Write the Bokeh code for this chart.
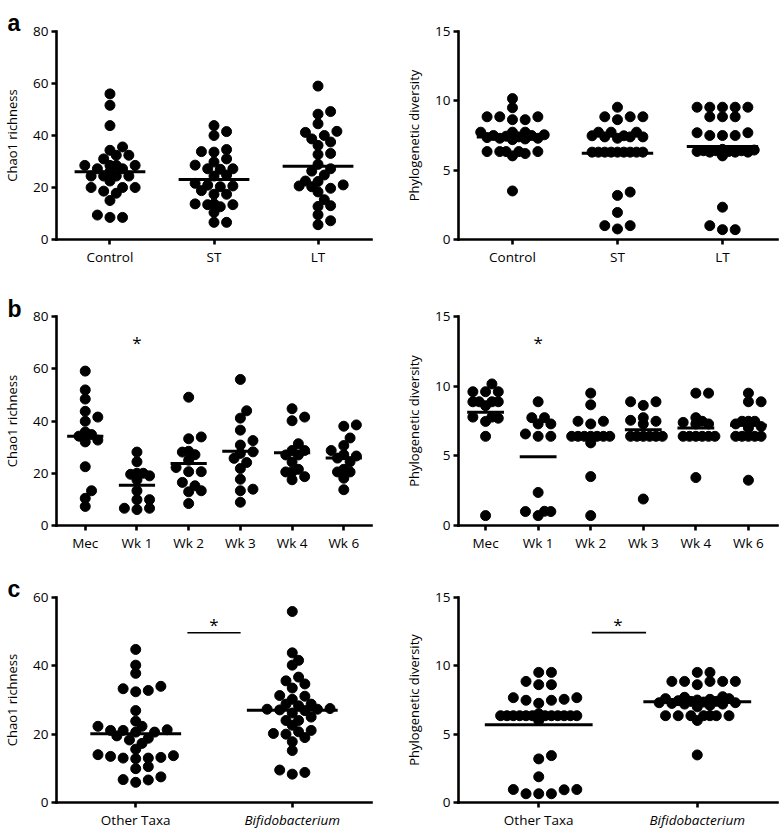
from bokeh.plotting import figure
from bokeh.layouts import column, row
from bokeh.models import Range1d, FixedTicker
from bokeh.core.properties import value
from bokeh.embed import file_html
from bokeh.resources import INLINE

FONT = "Open Sans"

# ---------------- data ----------------
cats_a = ["Control", "ST", "LT"]
cats_b = ["Mec", "Wk 1", "Wk 2", "Wk 3", "Wk 4", "Wk 6"]
cats_c = ["Other Taxa", "Bifidobacterium"]

a_chao_control = [56.0, 51.6, 43.8, 35.6, 34.3, 32.4, 32.4, 31.0, 28.5, 28.5, 28.5, 28.5, 27.2, 27.2, 26.0,
                  24.4, 24.4, 24.4, 24.4, 22.5, 20.0, 20.0, 20.0, 18.6, 17.8, 15.0, 9.4, 8.5, 8.5]
a_chao_st = [43.8, 41.5, 40.0, 34.6, 33.8, 33.6, 31.0, 29.8, 28.6, 27.2, 27.2, 27.0, 24.8, 24.4, 21.6,
             20.9, 20.6, 20.3, 18.8, 17.4, 17.4, 13.7, 13.7, 13.4, 13.4, 12.6, 10.4, 6.6, 6.6]
a_chao_lt = [59.0, 49.2, 48.2, 44.5, 41.6, 41.2, 40.0, 38.7, 37.5, 36.2, 33.1, 32.7, 28.9, 27.2, 26.3,
             24.8, 22.5, 22.3, 21.0, 20.6, 20.3, 19.7, 18.3, 15.3, 13.0, 12.7, 9.5, 7.2, 5.7]
a_chao_lines = [26.1, 23.1, 28.2]

a_pd_control = [10.16, 9.5, 8.85, 8.85, 8.85, 8.64, 8.64, 7.74, 7.74, 7.74, 7.55, 7.5, 7.5, 7.45, 7.4,
                7.35, 7.3, 7.3, 7.25, 7.2, 6.34, 6.34, 6.34, 6.34, 6.34, 6.2, 6.03, 3.5]
a_pd_st = [9.54, 8.85, 8.85, 8.85, 8.64, 7.74, 7.74, 7.74, 7.48, 7.48, 7.4, 7.4, 7.4, 7.3,
           6.3, 6.3, 6.3, 6.3, 6.3, 6.3, 6.3, 6.3, 6.3, 3.42, 3.18, 1.95, 1.0, 1.0, 0.76]
a_pd_lt = [9.54, 9.54, 9.54, 9.54, 9.54, 8.85, 8.85, 8.85, 7.7, 7.7, 7.5, 7.5, 7.5,
           6.5, 6.45, 6.4, 6.4, 6.4, 6.35, 6.35, 6.3, 6.3, 6.3, 6.03, 2.33, 1.0, 0.71, 0.71]
a_pd_lines = [7.4, 6.22, 6.7]

b_chao_mec = [59.1, 51.9, 48.4, 43.7, 41.5, 39.9, 35.8, 34.8, 34.2, 32.7, 32.0, 22.5, 13.3, 10.4, 7.3]
b_chao_wk1 = [28.1, 24.4, 20.0, 20.0, 19.6, 19.0, 17.5, 13.3, 9.9, 9.9, 6.6, 6.6, 6.1]
b_chao_wk2 = [49.1, 33.9, 33.2, 28.4, 28.1, 27.1, 25.0, 22.2, 20.6, 20.6, 16.5, 15.2, 13.3, 12.9, 8.4]
b_chao_wk3 = [55.9, 43.9, 41.1, 36.5, 32.5, 30.8, 28.2, 27.6, 25.7, 24.1, 21.8, 17.7, 13.9, 13.3, 8.9]
b_chao_wk4 = [44.7, 41.5, 40.1, 31.3, 28.7, 28.7, 27.0, 27.0, 24.3, 21.5, 20.5, 20.5, 18.7, 17.5]
b_chao_wk6 = [38.5, 38.0, 33.5, 30.6, 28.7, 27.1, 26.6, 25.8, 24.4, 21.5, 20.5, 20.5, 18.1, 13.7]
b_chao_lines = [34.2, 15.4, 23.7, 28.4, 27.8, 25.8]

b_pd_mec = [10.16, 9.6, 9.6, 9.6, 8.88, 8.88, 8.88, 8.88, 8.6, 7.78, 7.78, 7.7, 7.47, 6.4, 0.71]
b_pd_wk1 = [8.88, 7.74, 7.74, 7.29, 7.29, 6.57, 6.4, 6.4, 2.37, 1.02, 1.0, 1.0, 0.71]
b_pd_wk2 = [9.5, 8.66, 7.48, 7.48, 7.29, 6.4, 6.4, 6.4, 6.4, 6.4, 6.4, 6.4, 5.93, 3.51, 0.71]
b_pd_wk3 = [8.88, 8.88, 8.62, 7.74, 7.55, 7.48, 7.29, 6.4, 6.4, 6.4, 6.4, 6.4, 6.4, 1.9]
b_pd_wk4 = [9.5, 9.5, 7.74, 7.48, 7.4, 7.29, 7.29, 6.4, 6.4, 6.4, 6.4, 6.4, 6.4, 3.44]
b_pd_wk6 = [9.5, 8.88, 8.88, 7.48, 7.48, 7.48, 7.29, 7.1, 7.0, 6.4, 6.4, 6.4, 6.4, 6.4, 3.25]
b_pd_lines = [8.12, 4.94, 6.36, 6.88, 7.0, 7.19]

c_chao_other = [44.8, 40.2, 37.8, 34.0, 33.3, 32.8, 32.4, 26.9, 23.8, 22.3, 22.3, 21.3, 21.1, 21.1, 20.6,
                20.6, 19.5, 18.8, 18.3, 17.3, 15.6, 14.0, 13.7, 13.5, 13.2, 13.0, 13.0, 12.8, 10.5, 9.9,
                7.5, 6.7, 6.6, 5.9]
c_chao_bifido = [55.9, 43.8, 41.6, 40.2, 36.7, 35.6, 34.7, 33.5, 31.3, 31.1, 30.2, 28.8, 28.8, 28.3, 27.5,
                 27.3, 27.3, 27.1, 26.9, 26.2, 25.0, 24.0, 24.0, 22.6, 21.1, 20.7, 20.2, 20.0, 19.0, 17.8,
                 15.2, 9.5, 8.8, 8.3]
c_chao_lines = [20.1, 27.0]
c_chao_sig = 49.7

c_pd_other = [9.52, 9.52, 8.86, 8.62, 8.62, 7.67, 7.67, 7.55, 7.48, 7.48, 7.26, 6.5,
              6.35, 6.35, 6.35, 6.35, 6.35, 6.35, 6.35, 6.35, 6.35, 6.35, 6.35, 6.35,
              6.0, 3.43, 3.19, 1.88, 0.95, 0.95, 0.93, 0.64, 0.64, 0.64]
c_pd_bifido = [9.52, 9.52, 8.86, 8.86, 8.86, 8.86, 8.86, 8.62,
               7.74, 7.7, 7.6, 7.6, 7.55, 7.5, 7.45, 7.4, 7.4, 7.35, 7.3, 7.3, 7.25, 7.2, 7.2, 7.1, 7.0,
               6.35, 6.35, 6.35, 6.35, 6.35, 6.35, 6.35, 6.0, 3.48]
c_pd_lines = [5.69, 7.38]
c_pd_sig = 12.43

b_star_chao = 71.5
b_star_pd = 13.4


# ---------------- helpers ----------------
def swarm(vals, center, ppx, ppy, wmax, step=6.35, d1=8.0, d2=6.3):
    """Prism-like column scatter: full-step spreading inside wmax, half-step filling beyond."""
    cands = [0.0]
    for j in range(1, 80):
        cands += [j * step, -j * step]
    placed = []
    xs = [0.0] * len(vals)
    order = sorted(range(len(vals)), key=lambda i: vals[i])
    for i in order:
        y = vals[i] * ppy

        def md(c):
            if not placed:
                return 1e9
            return min((c - px) ** 2 + (y - py) ** 2 for px, py in placed)

        chosen = None
        for c in cands:
            if abs(c) <= wmax + 0.01 and md(c) >= d1 ** 2:
                chosen = c
                break
        if chosen is None:
            for c in cands:
                if md(c) >= d2 ** 2:
                    chosen = c
                    break
        if chosen is None:
            chosen = cands[-1]
        placed.append((chosen, y))
        xs[i] = center + chosen / ppx
    return xs


def make_panel(width, top, ph, bot, bl, br, xr, ytop, yticks, ylabel, cats, groups, lines, hw, wmax,
               letter=None, letter_up=9, italic_last=False):
    p = figure(width=width, height=top + ph + bot, x_range=Range1d(*xr), y_range=Range1d(0, ytop),
               output_backend="svg", toolbar_location=None,
               min_border_left=bl, min_border_right=br, min_border_top=top, min_border_bottom=bot)
    p.xgrid.visible = False
    p.ygrid.visible = False
    p.outline_line_color = None
    p.background_fill_color = "white"
    p.border_fill_color = "white"
    for ax in (p.xaxis[0], p.yaxis[0]):
        ax.axis_line_width = 2.6
        ax.axis_line_color = "black"
        ax.axis_line_cap = "square"
        ax.major_tick_line_width = 2.6
        ax.major_tick_line_color = "black"
        ax.major_tick_out = 5
        ax.major_tick_in = 0
        ax.minor_tick_line_color = None
        ax.major_label_text_font = FONT
        ax.major_label_text_font_size = "13.5px"
        ax.major_label_text_color = "black"
        ax.major_label_standoff = 3
    p.yaxis.ticker = FixedTicker(ticks=yticks)
    p.xaxis.ticker = FixedTicker(ticks=list(range(len(cats))))
    ov = {}
    for i, c in enumerate(cats):
        ov[i] = " " if (italic_last and i == len(cats) - 1) else c
    p.xaxis.major_label_overrides = ov
    p.yaxis.axis_label = ylabel
    p.yaxis.axis_label_text_font = FONT
    p.yaxis.axis_label_text_font_size = "13px"
    p.yaxis.axis_label_text_font_style = "normal"
    p.yaxis.axis_label_text_color = "black"
    p.yaxis.axis_label_standoff = 9

    fw = width - bl - br
    ppx = fw / (xr[1] - xr[0])
    ppy = ph / ytop
    xs_all, ys_all = [], []
    for gi, vals in enumerate(groups):
        xs_all += swarm(vals, gi, ppx, ppy, wmax)
        ys_all += list(vals)
    p.scatter(xs_all, ys_all, size=10, color="black", marker="circle")
    n = len(lines)
    p.segment(x0=[i - hw for i in range(n)], x1=[i + hw for i in range(n)],
              y0=lines, y1=lines, line_width=3, color="black")
    if italic_last:
        k = len(cats) - 1
        p.text(x=[k], y=[0], text=[cats[k]], y_offset=8, text_font=value(FONT), text_font_size="13.5px",
               text_font_style="italic", text_align="center", text_baseline="top", text_color="black",
               level="guide")
    if letter is not None:
        p.text(x=[xr[0]], y=[ytop], text=[letter], x_offset=-(bl - 4), y_offset=-letter_up,
               text_font=value("Liberation Sans"), text_font_size="23px", text_font_style="bold",
               text_align="left", text_baseline="alphabetic", text_color="black", level="guide")
    return p


def star(p, x, y):
    p.text(x=[x], y=[y], text=["*"], text_font=value(FONT), text_font_size="17px",
           text_align="center", text_baseline="middle", y_offset=4, text_color="black")


# ---------------- layout (page has no margin) ----------------
LW, RW = 390, 389
LB, LR = 53, 19
RB, RR = 68, 2

xr_a_l = (-0.514, 2.514)
xr_a_r = (-0.514, 2.524)
xr_b_l = (-0.556, 5.536)
xr_b_r = (-0.515, 5.553)
xr_c = (-0.506, 1.506)

pa1 = make_panel(LW, 31, 210, 27, LB, LR, xr_a_l, 80, [0, 20, 40, 60, 80], "Chao1 richness",
                 cats_a, [a_chao_control, a_chao_st, a_chao_lt], a_chao_lines, 0.34, 25.4,
                 letter="a", letter_up=9)
pa2 = make_panel(RW, 31, 210, 27, RB, RR, xr_a_r, 15, [0, 5, 10, 15], "Phylogenetic diversity",
                 cats_a, [a_pd_control, a_pd_st, a_pd_lt], a_pd_lines, 0.34, 25.4)

pb1 = make_panel(LW, 48, 211, 27, LB, LR, xr_b_l, 80, [0, 20, 40, 60, 80], "Chao1 richness",
                 cats_b, [b_chao_mec, b_chao_wk1, b_chao_wk2, b_chao_wk3, b_chao_wk4, b_chao_wk6],
                 b_chao_lines, 0.35, 12.7, letter="b", letter_up=8)
pb2 = make_panel(RW, 48, 211, 27, RB, RR, xr_b_r, 15, [0, 5, 10, 15], "Phylogenetic diversity",
                 cats_b, [b_pd_mec, b_pd_wk1, b_pd_wk2, b_pd_wk3, b_pd_wk4, b_pd_wk6],
                 b_pd_lines, 0.35, 12.7)
star(pb1, 1, b_star_chao)
star(pb2, 1, b_star_pd)

pc1 = make_panel(LW, 43, 210, 24, LB, LR, xr_c, 60, [0, 20, 40, 60], "Chao1 richness",
                 cats_c, [c_chao_other, c_chao_bifido], c_chao_lines, 0.29, 38.1,
                 letter="c", letter_up=9, italic_last=True)
pc2 = make_panel(RW, 43, 210, 24, RB, RR, xr_c, 15, [0, 5, 10, 15], "Phylogenetic diversity",
                 cats_c, [c_pd_other, c_pd_bifido], c_pd_lines, 0.34, 38.1, italic_last=True)
pc1.segment(x0=[0.33], x1=[0.67], y0=[c_chao_sig], y1=[c_chao_sig], line_width=1.6, color="black")
pc2.segment(x0=[0.335], x1=[0.677], y0=[c_pd_sig], y1=[c_pd_sig], line_width=1.6, color="black")
star(pc1, 0.5, c_chao_sig + 3.6)
star(pc2, 0.5, c_pd_sig + 0.9)

layout = column(row(pa1, pa2, spacing=0), row(pb1, pb2, spacing=0), row(pc1, pc2, spacing=0), spacing=0)

open("out.html", "w").write(file_html(layout, INLINE))
